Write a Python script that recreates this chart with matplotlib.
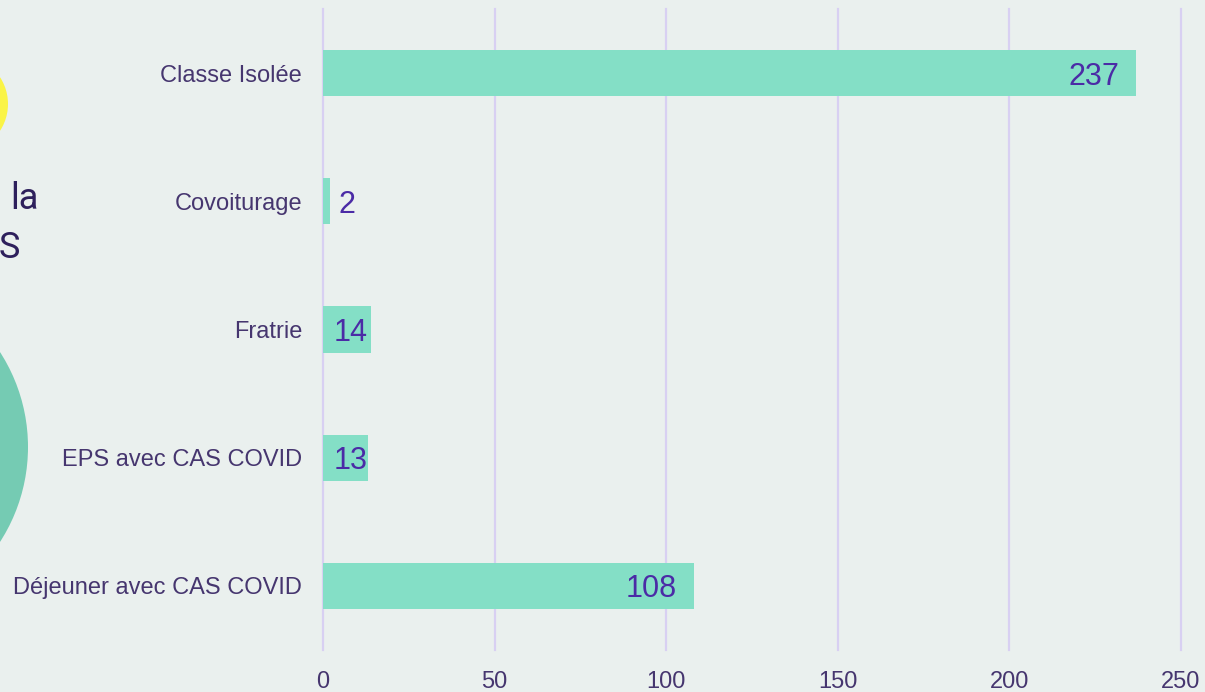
import matplotlib.pyplot as plt
from matplotlib.patches import Circle

categories = ['Classe Isolée', 'Covoiturage', 'Fratrie', 'EPS avec CAS COVID', 'Déjeuner avec CAS COVID']
values = [237, 2, 14, 13, 108]
xticks = [0, 50, 100, 150, 200, 250]

bg = '#EAF0EE'
bar_color = '#84DFC6'
grid_color = '#D8D0F2'
label_color = '#46366F'
value_color = '#4B2BA6'

plt.rcParams['font.family'] = ['Liberation Sans', 'DejaVu Sans']

fig = plt.figure(figsize=(12.05, 6.92), dpi=100, facecolor=bg)

# decorative shapes on the left edge (cut-off slide background)
deco = fig.add_axes([0, 0, 1, 1], zorder=0)
deco.set_xlim(0, 1205)
deco.set_ylim(692, 0)
deco.axis('off')
deco.add_patch(Circle((-41, 104), 49, color='#FAF446', lw=0))
deco.add_patch(Circle((-147, 447), 175, color='#75CBB3', lw=0))
fig.text(39 / 1205, 1 - 199 / 692, 'la', ha='right', va='center', fontsize=26,
         color='#2E205C', family=['Roboto', 'DejaVu Sans'])
fig.text(20 / 1205, 1 - 248 / 692, 'S', ha='right', va='center', fontsize=26,
         color='#2E205C', family=['Roboto', 'DejaVu Sans'])

ax = fig.add_axes([323 / 1205, 1 - 650 / 692, (1181 - 323) / 1205, (650 - 9) / 692], zorder=1)
ax.patch.set_alpha(0)

pos = list(range(len(categories)))
ax.barh(pos, values, height=0.36, color=bar_color, zorder=2)

for p, v in zip(pos, values):
    if v >= 50:
        x0, dx, ha = v, -12, 'right'
    elif v >= 10:
        x0, dx, ha = 0, 7.5, 'left'
    else:
        x0, dx, ha = v, 6.5, 'left'
    ax.annotate(str(v), (x0, p), xytext=(dx, 0), textcoords='offset points',
                ha=ha, va='center_baseline', fontsize=22, color=value_color, zorder=3)

ax.set_xlim(0, 250)
ax.set_ylim(4.5, -0.5)
ax.set_yticks(pos)
ax.set_yticklabels(categories)
ax.set_xticks(xticks)
ax.set_xticklabels([str(t) for t in xticks])
ax.tick_params(axis='y', length=0, pad=15, labelsize=17, labelcolor=label_color)
ax.tick_params(axis='x', length=0, pad=15, labelsize=17, labelcolor=label_color)
ax.xaxis.grid(True, color=grid_color, linewidth=1.6, zorder=1)
ax.set_axisbelow(True)
for gl in ax.get_xgridlines():
    gl.set_clip_on(False)
for s in ax.spines.values():
    s.set_visible(False)

fig.savefig('out.png', dpi=100, facecolor=bg)
